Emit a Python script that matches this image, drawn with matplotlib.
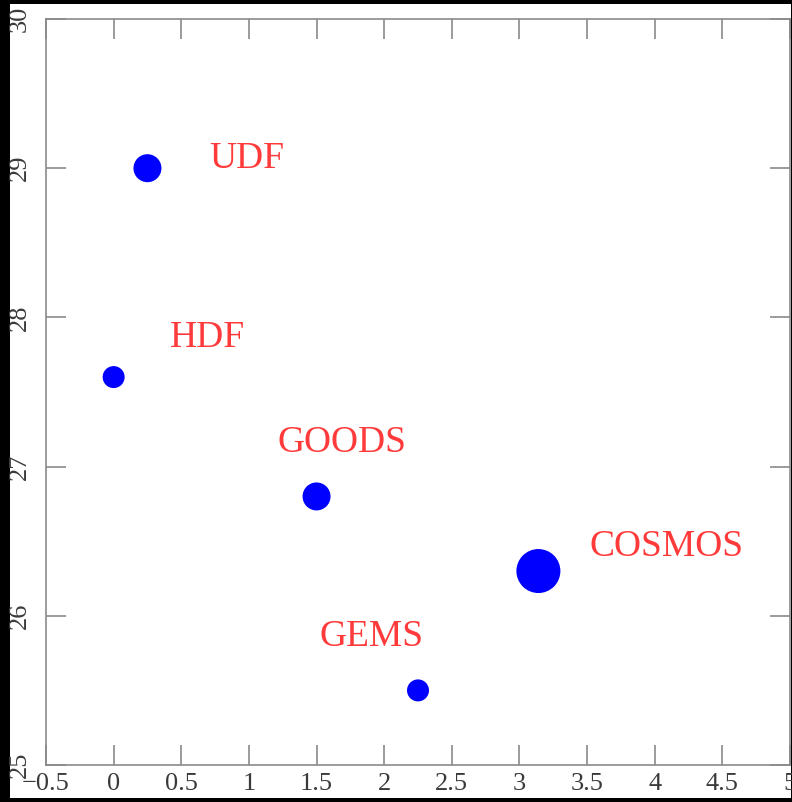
import matplotlib
matplotlib.use("Agg")
import matplotlib.pyplot as plt
from matplotlib.patches import Rectangle

# Survey depth vs. area
surveys = ["UDF", "HDF", "GOODS", "COSMOS", "GEMS"]
log_area = [0.25, 0.0, 1.5, 3.14, 2.25]
depth_mag = [29.0, 27.6, 26.8, 26.3, 25.5]

# label anchor points (data coordinates) and marker diameters (pixels)
label_x = [0.71, 0.415, 1.21, 3.52, 1.52]
label_y = [29.0, 27.80, 27.10, 26.40, 25.80]
marker_px = [28, 22, 28, 44, 22]

x_ticks = [-0.5, 0, 0.5, 1, 1.5, 2, 2.5, 3, 3.5, 4, 4.5, 5]
x_tick_labels = ["\u22120.5", "0", "0.5", "1", "1.5", "2", "2.5", "3", "3.5", "4", "4.5", "5"]
y_ticks = [25, 26, 27, 28, 29, 30]
y_tick_labels = ["25", "26", "27", "28", "29", "30"]

W, H, DPI = 792, 802, 100
fig = plt.figure(figsize=(W / DPI, H / DPI), dpi=DPI, facecolor="black")
fig.add_artist(Rectangle((10 / W, 4 / H), (791 - 10) / W, (798 - 4) / H,
                         transform=fig.transFigure, facecolor="white",
                         edgecolor="none", zorder=-1))

ax = fig.add_axes([46 / W, (H - 765) / H, (790 - 46) / W, (765 - 19) / H])
ax.set_facecolor("white")
ax.set_xlim(-0.5, 5)
ax.set_ylim(25, 30)

sizes = [(d * 72 / DPI) ** 2 for d in marker_px]
ax.scatter(log_area, depth_mag, s=sizes, color="#0000ff", linewidths=0,
           zorder=3, clip_on=False)

for name, lx, ly in zip(surveys, label_x, label_y):
    ax.text(lx, ly, name, color="#ff3a3a", fontsize=27,
            family="Liberation Serif", ha="left", va="baseline")

for sp in ax.spines.values():
    sp.set_color("#8a8a8a")
    sp.set_linewidth(1.2)

ax.set_xticks(x_ticks)
ax.set_xticklabels(x_tick_labels, family="Liberation Serif", fontsize=19,
                   color="#3a3a3a")
ax.set_yticks(y_ticks)
ax.set_yticklabels(y_tick_labels, family="Liberation Serif", fontsize=19,
                   color="#3a3a3a", rotation=90, va="center")
ax.tick_params(axis="both", direction="in", length=14.5, width=1.2,
               color="#8a8a8a", top=True, right=True)
ax.tick_params(axis="x", pad=6)
ax.tick_params(axis="y", pad=11)

fig.savefig("out.png", dpi=DPI, facecolor="black")
